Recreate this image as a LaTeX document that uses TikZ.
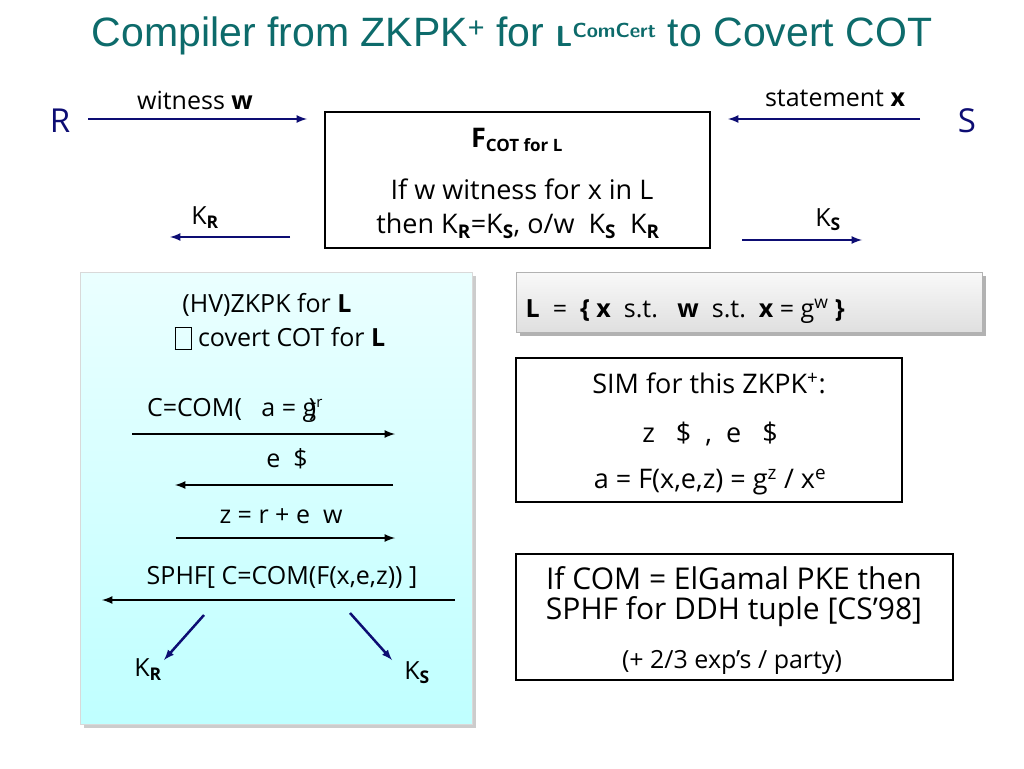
\documentclass[tikz,border=0pt]{standalone}
\usepackage{fontspec}
\setmainfont{Open Sans}
\newfontfamily\titlefont{Liberation Sans}
\usetikzlibrary{arrows}
\definecolor{cnavy}{rgb}{0.05, 0.05, 0.45}
\definecolor{cteal}{rgb}{0.05, 0.42, 0.42}
\newcommand{\tofu}{\fbox{\rule{0pt}{1.2ex}\hspace{0.4em}}}
\begin{document}
\begin{tikzpicture}[x=1pt,y=-1pt,>=latex,thick,
  txt/.style={font=\fontsize{25}{29}\selectfont},
  big/.style={font=\fontsize{27}{32}\selectfont},
  msg/.style={->,line width=2.5pt},
  key/.style={->,line width=2.5pt,draw=cnavy},
  frame/.style={draw,line width=2pt,fill=white}]
  \useasboundingbox[fill=white] (0,0) rectangle (1024,768);
  \node[font=\titlefont\fontsize{41}{45}\selectfont,text=cteal] (title) at (512,36)
    {Compiler from ZKPK\textsuperscript{+} for {\sffamily\bfseries\fontsize{29}{29}\selectfont L\textsuperscript{ComCert}} to Covert COT};
  % parties
  \node[font=\fontsize{33}{36}\selectfont,text=cnavy] (R) at (60,121) {R};
  \node[font=\fontsize{33}{36}\selectfont,text=cnavy] (S) at (967,121) {S};
  \coordinate (r1) at (88,119);  \coordinate (r2) at (307,119);
  \coordinate (s1) at (920,119); \coordinate (s2) at (728,119);
  \node[txt] (wit) at (195,100) {witness \textbf{w}};
  \node[txt] (stat) at (835,98) {statement \textbf{x}};
  \draw[key] (r1) -- (r2);
  \draw[key] (s1) -- (s2);
  % ideal functionality
  \draw[frame] (325,112) rectangle (710,248);
  \node[big] (F) at (517,140) {\textbf{F\textsubscript{\fontsize{17}{17}\selectfont COT for L}}};
  \node[big] (F2) at (522,189) {If w witness for x in L};
  \node[big] (F3) at (518,226) {then K\textsubscript{\textbf{R}}=K\textsubscript{\textbf{S}}, o/w\ \ K\textsubscript{\textbf{S}}\ \ K\textsubscript{\textbf{R}}};
  \node[txt] (kr) at (205,218) {K\textsubscript{\textbf{R}}};
  \node[txt] (ks) at (828,220) {K\textsubscript{\textbf{S}}};
  \coordinate (kr1) at (290,237); \coordinate (kr2) at (170,237);
  \coordinate (ks1) at (742,240); \coordinate (ks2) at (862,240);
  \draw[key] (kr1) -- (kr2);
  \draw[key] (ks1) -- (ks2);
  % protocol panel
  \fill[gray!40] (84,276) rectangle (476,728);
  \shade[top color=cyan!8,bottom color=cyan!25,draw=gray!30] (80,272) rectangle (472,724);
  \node[txt] (p1) at (267,305) {(HV)ZKPK for \textbf{L}};
  \node[txt] (p2) at (280,338) {\tofu\ covert COT for \textbf{L}};
  \node[txt] (m1) at (235,410) {C=COM(\ \ \ a = g\llap{)}\textsuperscript{\fontsize{15}{15}\selectfont r}};
  \node[txt] (m2) at (287,459) {e\ \ \$};
  \node[txt] (m3) at (281,516) {z = r + e\ \ w};
  \node[txt] (m4) at (282,577) {SPHF[ C=COM(F(x,e,z)) ]};
  \coordinate (a1) at (132,434); \coordinate (a2) at (395,434);
  \coordinate (b1) at (393,485); \coordinate (b2) at (175,485);
  \coordinate (c1) at (176,538); \coordinate (c2) at (395,538);
  \coordinate (d1) at (455,600); \coordinate (d2) at (102,600);
  \draw[msg] (a1) -- (a2);
  \draw[msg] (b1) -- (b2);
  \draw[msg] (c1) -- (c2);
  \draw[msg] (d1) -- (d2);
  \node[txt] (pkr) at (148,670) {K\textsubscript{\textbf{R}}};
  \node[txt] (pks) at (417,673) {K\textsubscript{\textbf{S}}};
  \coordinate (e1) at (204,615); \coordinate (e2) at (164,660);
  \coordinate (f1) at (350,613); \coordinate (f2) at (392,660);
  \draw[key] (e1) -- (e2);
  \draw[key] (f1) -- (f2);
  % language
  \fill[gray!60] (520,276) rectangle (986,336);
  \shade[top color=gray!5,bottom color=gray!25,draw=gray!60] (516,272) rectangle (982,332);
  \node[txt,anchor=west] (lang) at (522,311)
    {\textbf{L}\ \ =\ \ \textbf{\{ x}\ \ s.t.\ \ \ \textbf{w}\ \ s.t.\ \ \textbf{x} = g\textsuperscript{w} \textbf{\}}};
  % simulator
  \draw[frame] (516,358) rectangle (902,502);
  \node[big] (sim1) at (709,383) {SIM for this ZKPK\textsuperscript{+}:};
  \node[big] (sim2) at (710,434) {z\ \ \ \$\ \ ,\ \ e\ \ \ \$};
  \node[big] (sim3) at (710,482) {a = F(x,e,z) = g\textsuperscript{z} / x\textsuperscript{e}};
  % instantiation
  \draw[frame] (516,554) rectangle (953,680);
  \node[font=\fontsize{30}{34}\selectfont] (inst1) at (734,578) {If COM = ElGamal PKE then};
  \node[font=\fontsize{30}{34}\selectfont] (inst2) at (734,612) {SPHF for DDH tuple [CS’98]};
  \node[txt] (inst3) at (732,662) {(+ 2/3 exp’s / party)};
\end{tikzpicture}
\end{document}
